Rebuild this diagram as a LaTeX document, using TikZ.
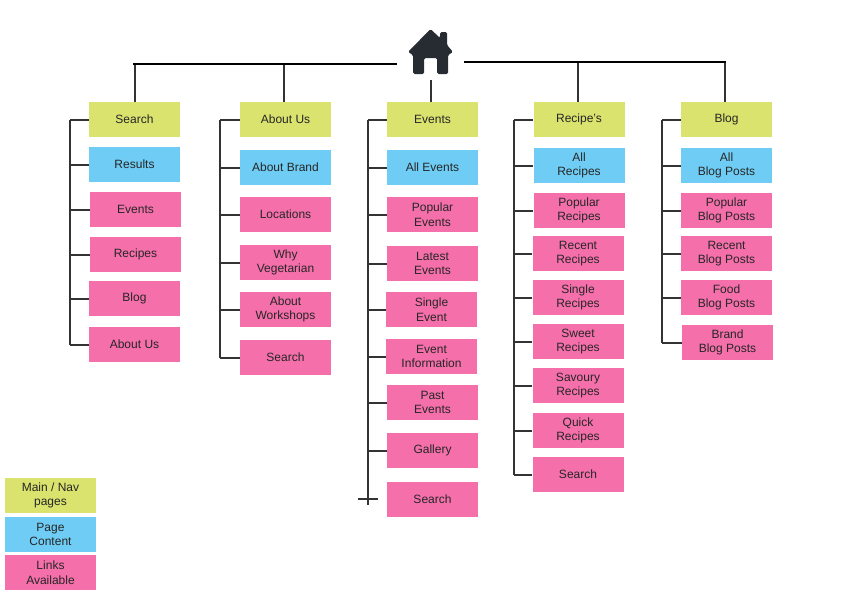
\documentclass[tikz,border=0pt]{standalone}
\usepackage{fontspec}
\setmainfont{Liberation Sans}
\usetikzlibrary{positioning}
\definecolor{navlime}{HTML}{DAE36D}
\definecolor{pageblue}{HTML}{6FCDF5}
\definecolor{linkpink}{HTML}{F56FAB}
\definecolor{houseink}{HTML}{272C33}
\definecolor{lineink}{HTML}{333336}
\begin{document}
\begin{tikzpicture}[x=1pt, y=1pt, every node/.style={font=\fontsize{12}{14.5}\selectfont, text=black!85}]
  % Styles
  \tikzset{
    pagebox/.style={rectangle, minimum width=91pt, minimum height=35pt, inner sep=0pt, align=center},
    mainpage/.style={pagebox, fill=navlime},
    content/.style={pagebox, fill=pageblue},
    linkpage/.style={pagebox, fill=linkpink},
    trunk/.style={draw=black, line width=2.2pt, line cap=rect},
    branch/.style={draw=lineink, line width=2pt}
  }
  \useasboundingbox (0,0) rectangle (842,-595);

  % Home icon
  \node[minimum width=46pt, minimum height=56pt, inner sep=0pt] (home) at (430.5,-52) {};
  \fill[houseink, rounded corners=1.5pt]
    (408,-52) -- (430.5,-29) -- (440,-38) -- (440,-32) -- (447,-32) -- (447,-45) -- (453,-52)
    -- (448,-55) -- (448,-74) -- (437,-74) -- (437,-58) -- (424,-58) -- (424,-74)
    -- (413,-74) -- (413,-55) -- cycle;

  % Search column
  \node[mainpage] (a0) at (134.5,-119.5) {Search};
  \node[content] (a1) at (134.5,-164.5) {Results};
  \node[linkpage] (a2) at (135.5,-209.5) {Events};
  \node[linkpage] (a3) at (135.5,-254.5) {Recipes};
  \node[linkpage] (a4) at (134.5,-298.5) {Blog};
  \node[linkpage] (a5) at (134.5,-344.5) {About Us};

  % About column
  \node[mainpage] (b0) at (285.5,-119.5) {About Us};
  \node[content] (b1) at (285.5,-167.5) {About Brand};
  \node[linkpage] (b2) at (285.5,-214.5) {Locations};
  \node[linkpage] (b3) at (285.5,-262.5) {Why\\Vegetarian};
  \node[linkpage] (b4) at (285.5,-309.5) {About\\Workshops};
  \node[linkpage] (b5) at (285.5,-357.5) {Search};

  % Events column
  \node[mainpage] (c0) at (432.5,-119.5) {Events};
  \node[content] (c1) at (432.5,-167.5) {All Events};
  \node[linkpage] (c2) at (432.5,-214.5) {Popular\\Events};
  \node[linkpage] (c3) at (432.5,-263.5) {Latest\\Events};
  \node[linkpage] (c4) at (431.5,-309.5) {Single\\Event};
  \node[linkpage] (c5) at (431.5,-356.5) {Event\\Information};
  \node[linkpage] (c6) at (432.5,-402.5) {Past\\Events};
  \node[linkpage] (c7) at (432.5,-450.5) {Gallery};
  \node[linkpage] (c8) at (432.5,-499.5) {Search};

  % Recipe column
  \node[mainpage] (d0) at (579,-119.5) {Recipe's};
  \node[content] (d1) at (579,-165.5) {All\\Recipes};
  \node[linkpage] (d2) at (579,-210.5) {Popular\\Recipes};
  \node[linkpage] (d3) at (578,-253.5) {Recent\\Recipes};
  \node[linkpage] (d4) at (578,-297.5) {Single\\Recipes};
  \node[linkpage] (d5) at (578,-341.5) {Sweet\\Recipes};
  \node[linkpage] (d6) at (578,-385.5) {Savoury\\Recipes};
  \node[linkpage] (d7) at (578,-430.5) {Quick\\Recipes};
  \node[linkpage] (d8) at (578,-474.5) {Search};

  % Blog column
  \node[mainpage] (e0) at (726.5,-119.5) {Blog};
  \node[content] (e1) at (726.5,-165.5) {All\\Blog Posts};
  \node[linkpage] (e2) at (726.5,-210.5) {Popular\\Blog Posts};
  \node[linkpage] (e3) at (726.5,-253.5) {Recent\\Blog Posts};
  \node[linkpage] (e4) at (726.5,-297.5) {Food\\Blog Posts};
  \node[linkpage] (e5) at (727.5,-342.5) {Brand\\Blog Posts};

  % Legend
  \node[mainpage] (keymain) at (50.5,-495.5) {Main / Nav\\pages};
  \node[content] (keypage) at (50.5,-534.5) {Page\\Content};
  \node[linkpage] (keylink) at (50.5,-572.5) {Links\\Available};

  % Free ends of the lines
  \coordinate (trunkL) at (396,-64);
  \coordinate (trunkR) at (465,-62);
  \coordinate (dropA) at (134.5,-64);
  \coordinate (dropB) at (284,-64);
  \coordinate (dropD) at (578,-62);
  \coordinate (dropE) at (725,-62);
  \coordinate (spineA) at (70,-120);
  \coordinate (spineB) at (220,-120);
  \coordinate (spineC) at (368,-120);
  \coordinate (spineD) at (514,-120);
  \coordinate (spineE) at (662,-120);
  \coordinate (spineCend) at (368,-505);
  \coordinate (crossL) at (358,-499);
  \coordinate (crossR) at (378,-499);

  % Lines from home
  \draw[branch] (dropA) -- (a0.north);
  \draw[branch] (dropB) -- (dropB |- b0.north);
  \draw[branch] (home.south) -- (home.south |- c0.north);
  \draw[branch] (dropD) -- (dropD |- d0.north);
  \draw[branch] (dropE) -- (dropE |- e0.north);
  \draw[trunk] (trunkL) -- (dropA);
  \draw[trunk] (trunkR) -- (dropE);

  % Spines
  \draw[branch] (spineA) -- (spineA |- a5.west);
  \draw[branch] (spineB) -- (spineB |- b5.west);
  \draw[branch] (spineC) -- (spineCend);
  \draw[branch] (spineD) -- (spineD |- d8.west);
  \draw[branch] (spineE) -- (spineE |- e5.west);
  \draw[branch] (crossL) -- (crossR);

  % Branches to the pages
  \draw[branch] (a0.west) -- (a0.west -| spineA);
  \draw[branch] (a1.west) -- (a1.west -| spineA);
  \draw[branch] (a2.west) -- (a2.west -| spineA);
  \draw[branch] (a3.west) -- (a3.west -| spineA);
  \draw[branch] (a4.west) -- (a4.west -| spineA);
  \draw[branch] (a5.west) -- (a5.west -| spineA);

  \draw[branch] (b0.west) -- (b0.west -| spineB);
  \draw[branch] (b1.west) -- (b1.west -| spineB);
  \draw[branch] (b2.west) -- (b2.west -| spineB);
  \draw[branch] (b3.west) -- (b3.west -| spineB);
  \draw[branch] (b4.west) -- (b4.west -| spineB);
  \draw[branch] (b5.west) -- (b5.west -| spineB);

  \draw[branch] (c0.west) -- (c0.west -| spineC);
  \draw[branch] (c1.west) -- (c1.west -| spineC);
  \draw[branch] (c2.west) -- (c2.west -| spineC);
  \draw[branch] (c3.west) -- (c3.west -| spineC);
  \draw[branch] (c4.west) -- (c4.west -| spineC);
  \draw[branch] (c5.west) -- (c5.west -| spineC);
  \draw[branch] (c6.west) -- (c6.west -| spineC);
  \draw[branch] (c7.west) -- (c7.west -| spineC);

  \draw[branch] (d0.west) -- (d0.west -| spineD);
  \draw[branch] (d1.west) -- (d1.west -| spineD);
  \draw[branch] (d2.west) -- (d2.west -| spineD);
  \draw[branch] (d3.west) -- (d3.west -| spineD);
  \draw[branch] (d4.west) -- (d4.west -| spineD);
  \draw[branch] (d5.west) -- (d5.west -| spineD);
  \draw[branch] (d6.west) -- (d6.west -| spineD);
  \draw[branch] (d7.west) -- (d7.west -| spineD);
  \draw[branch] (d8.west) -- (d8.west -| spineD);

  \draw[branch] (e0.west) -- (e0.west -| spineE);
  \draw[branch] (e1.west) -- (e1.west -| spineE);
  \draw[branch] (e2.west) -- (e2.west -| spineE);
  \draw[branch] (e3.west) -- (e3.west -| spineE);
  \draw[branch] (e4.west) -- (e4.west -| spineE);
  \draw[branch] (e5.west) -- (e5.west -| spineE);

\end{tikzpicture}
\end{document}
